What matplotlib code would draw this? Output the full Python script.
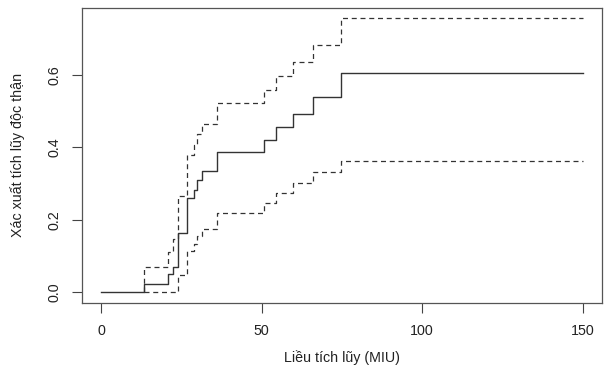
import numpy as np
import matplotlib.pyplot as plt

plt.rcParams['font.family'] = ['Liberation Sans', 'DejaVu Sans']

# cumulative dose (MIU) at each step
times = [0, 13.4, 20.8, 22.3, 23.9, 26.7, 29.0, 29.7, 31.4, 35.9, 50.8, 54.4, 59.7, 66.0, 74.8, 150]
est = [0, 0.023, 0.049, 0.070, 0.163, 0.259, 0.283, 0.310, 0.335, 0.388, 0.422, 0.458, 0.493, 0.541, 0.607, 0.607]
# confidence band starts at first event
ci_times = times[1:]
upper = [0.069, 0.110, 0.146, 0.265, 0.379, 0.406, 0.436, 0.466, 0.522, 0.559, 0.598, 0.636, 0.684, 0.757, 0.757]
lower = [0, 0, 0, 0.046, 0.114, 0.132, 0.155, 0.175, 0.220, 0.245, 0.273, 0.301, 0.331, 0.362, 0.362]

fig = plt.figure(figsize=(6.08, 3.79), dpi=100)
ax = fig.add_axes([0.135, 0.2005, 0.855, 0.7795])

col = '#333333'
ax.step(times, est, where='post', color=col, lw=1.0)
ax.step([ci_times[0]] + ci_times, [0] + upper, where='post', color=col, lw=0.9, dashes=(4, 3))
ax.step(ci_times, lower, where='post', color=col, lw=0.9, dashes=(4, 3))

ax.set_xlim(-6, 156)
ax.set_ylim(-0.0303, 0.787)
ax.set_xticks([0, 50, 100, 150])
ax.set_yticks([0.0, 0.2, 0.4, 0.6])
ax.set_yticklabels(['0.0', '0.2', '0.4', '0.6'], rotation=90, va='center')
ax.tick_params(direction='out', length=7, width=0.8, colors='#444444', labelcolor='#222222',
               labelsize=10.3, pad=8)
for s in ax.spines.values():
    s.set_color('#555555')
    s.set_linewidth(0.9)

ax.set_xlabel('Liều tích lũy (MIU)', fontsize=10.3, color='#222222', labelpad=9)
ax.set_ylabel('Xác xuất tích lũy độc thận', fontsize=10.3, color='#222222', labelpad=16)

plt.savefig('out.png', dpi=100)
